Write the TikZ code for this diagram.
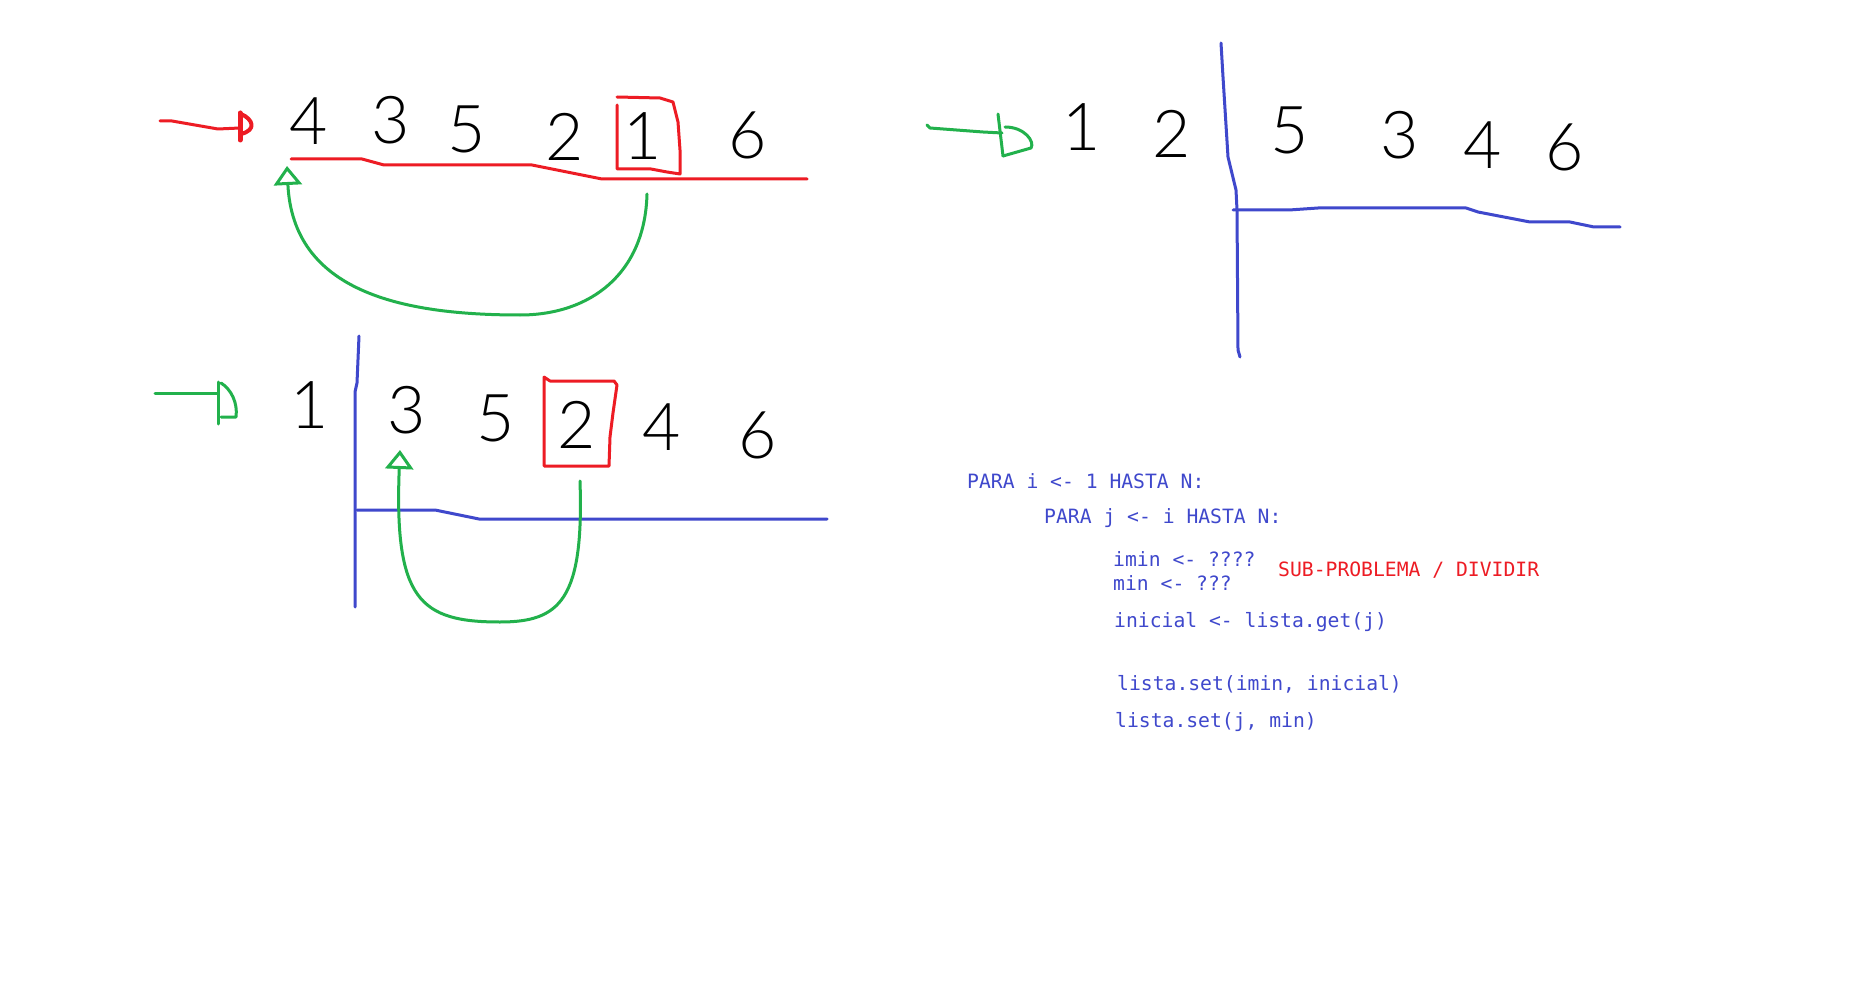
\documentclass[tikz,border=0pt]{standalone}
\usepackage{fontspec}
\usetikzlibrary{arrows.meta}

\newfontfamily\digitfont{Lato Light}
\newfontfamily\codefont{DejaVu Sans Mono}

\definecolor{paintred}{HTML}{ED1C24}
\definecolor{paintgreen}{HTML}{22B14C}
\definecolor{paintblue}{HTML}{3F48CC}

\tikzset{
  pen/.style={line width=3pt, line cap=round, line join=round},
  redpen/.style={pen, draw=paintred},
  greenpen/.style={pen, draw=paintgreen},
  bluepen/.style={pen, draw=paintblue},
  swap arrow/.style={greenpen, -{Triangle[open, width=28pt, length=19pt]}},
  digit/.style={inner sep=0pt, font=\digitfont\fontsize{66}{66}\selectfont},
  code/.style={anchor=base west, inner sep=0pt, text=paintblue,
    font=\codefont\fontsize{19.7}{20}\selectfont},
}

\begin{document}
\begin{tikzpicture}[x=1pt, y=-1pt]
\useasboundingbox (0,0) rectangle (1871,1000);
\fill[white] (0,0) rectangle (1871,1000);

% Paso 1
\node[digit] (p1n4) at (309,121) {4};
\node[digit] (p1n3) at (391,120) {3};
\node[digit] (p1n5) at (467,129) {5};
\node[digit] (p1n2) at (565,137) {2};
\node[digit] (p1n1) at (643,136) {1};
\node[digit] (p1n6) at (748,135) {6};

\coordinate (p1tail) at (160,121);
\coordinate (p1ptr) at (240,128);
\draw[redpen] (p1tail) -- ++(12,0) -- ++(46,8) -- (p1ptr);
\draw[redpen, line width=5pt] (p1ptr) ++(0,-15) -- ++(0,27);
\draw[redpen, line width=4pt] (p1ptr) ++(1,-14) .. controls +(12,5) and +(16,-4) .. ++(0,20);

\draw[redpen] (617,105) -- (617,169) -- (651,169) -- (667,172) -- (680,174)
  -- (680,150) -- (678,122) -- (673,102) -- (660,98) -- (617,97);

\draw[redpen] (291,159) -- (362,159) -- (384,165) -- (532,165) -- (562,171)
  -- (602,179) -- (807,179);

\coordinate (p1from) at (647,194);
\coordinate (p1low) at (520,315);
\coordinate (p1to) at (287,166);
\draw[swap arrow] (p1from) .. controls +(-2,80) and +(70,0) .. (p1low)
  .. controls +(-120,0) and +(6,125) .. (p1to);

% Paso 2
\node[digit] (p2n1) at (1082,127) {1};
\node[digit] (p2n2) at (1172,134) {2};
\node[digit] (p2n5) at (1290,130) {5};
\node[digit] (p2n3) at (1400,135) {3};
\node[digit] (p2n4) at (1483,145) {4};
\node[digit] (p2n6) at (1565,147) {6};

\coordinate (p2tail) at (927,125);
\coordinate (p2ptr) at (1002,133);
\draw[greenpen] (p2tail) -- ++(3,3) -- ++(53,4) -- (p2ptr);
\draw[greenpen] (p2ptr) ++(-4,-19) -- ++(5,42);
\draw[greenpen] (p2ptr) ++(3,-6) .. controls +(20,0) and +(4,-6) .. ++(26,21) -- ++(-28,8);

\draw[bluepen] (1221,43) -- (1223,77) -- (1228,157) -- (1236,190) -- (1237,210)
  -- (1238,350) -- (1240,357);
\draw[bluepen] (1233,210) -- (1289,210) -- (1318,208) -- (1466,208) -- (1478,212)
  -- (1530,222) -- (1570,222) -- (1594,227) -- (1620,227);

% Paso 3
\node[digit] (p3n1) at (310,405) {1};
\node[digit] (p3n3) at (407,410) {3};
\node[digit] (p3n5) at (496,418) {5};
\node[digit] (p3n2) at (577,425) {2};
\node[digit] (p3n4) at (662,427) {4};
\node[digit] (p3n6) at (758,435) {6};

\coordinate (p3tail) at (155,393);
\coordinate (p3ptr) at (218,393);
\draw[greenpen] (p3tail) -- (p3ptr);
\draw[greenpen] (p3ptr) ++(0,-11) -- ++(0,42);
\draw[greenpen] (p3ptr) ++(3,-10) .. controls +(10,6) and +(2,-14) .. ++(15,34) -- ++(-15,0);

\draw[bluepen] (359,336) -- (357,383) -- (355,392) -- (355,607);
\draw[bluepen] (357,510) -- (435,510) -- (479,519) -- (827,519);

\draw[redpen] (544,377) -- (550,381) -- (614,381) -- (617,385) -- (613,413)
  -- (610,437) -- (609,466) -- (544,466) -- (544,377);

\coordinate (p3from) at (580,481);
\coordinate (p3low) at (500,622);
\coordinate (p3to) at (400,450);
\draw[swap arrow] (p3from) .. controls +(4,119) and +(60,0) .. (p3low)
  .. controls +(-80,0) and +(-6,150) .. (p3to);

% Pseudocodigo
\node[code] (lineA) at (967,488) {PARA i <- 1 HASTA N:};
\node[code] (lineB) at (1044,523) {PARA j <- i HASTA N:};
\node[code] (lineC) at (1113,566) {imin <- ????};
\node[code] (lineD) at (1113,590) {min <- ???};
\node[code, text=paintred] (subp) at (1278,576) {SUB-PROBLEMA / DIVIDIR};
\node[code] (lineE) at (1114,627) {inicial <- lista.get(j)};
\node[code] (lineF) at (1117,690) {lista.set(imin, inicial)};
\node[code] (lineG) at (1115,727) {lista.set(j, min)};

\end{tikzpicture}
\end{document}
